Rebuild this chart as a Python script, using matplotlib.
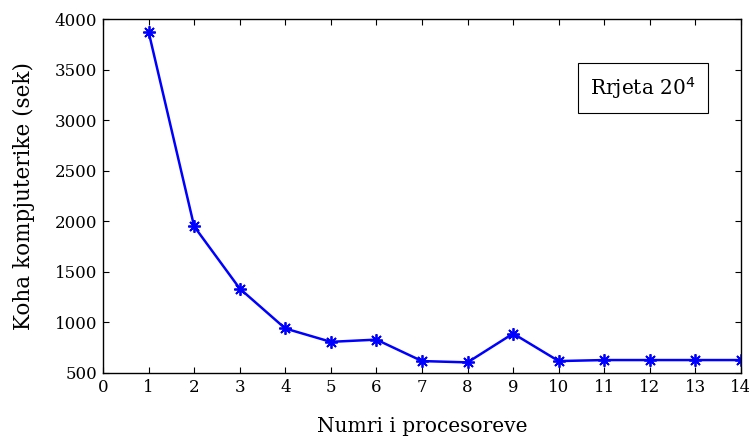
import matplotlib
matplotlib.use("Agg")
import matplotlib.pyplot as plt

processors = [1, 2, 3, 4, 5, 6, 7, 8, 9, 10, 11, 12, 13, 14]
times = [3875, 1950, 1335, 940, 808, 830, 618, 605, 890, 618, 628, 628, 628, 628]
xticks = list(range(0, 15))
yticks = [500, 1000, 1500, 2000, 2500, 3000, 3500, 4000]

plt.rcParams['font.family'] = ['DejaVu Serif']
fig = plt.figure(figsize=(7.49, 4.41), dpi=100)
ax = fig.add_axes([0.1375, 0.1542, 0.8518, 0.8027])

ax.plot(processors, times, color=(0, 0, 1), linewidth=1.8,
        marker=(8, 2, 0), markersize=9, markeredgewidth=1.3)

ax.set_xlim(0, 14)
ax.set_ylim(500, 4000)
ax.set_xticks(xticks)
ax.set_yticks(yticks)
ax.tick_params(direction='in', top=True, right=True, labelsize=12, length=4,
               width=0.8, pad=4)
for s in ax.spines.values():
    s.set_linewidth(1.0)

ax.set_xlabel("Numri i procesoreve", fontsize=14.5)
ax.xaxis.set_label_coords(0.5, -0.125)
ax.set_ylabel("Koha kompjuterike (sek)", fontsize=15.5)
ax.yaxis.set_label_coords(-0.107, 0.5)

ax.text(0.846, 0.805, r"Rrjeta 20$^4$", transform=ax.transAxes, fontsize=14.5,
        ha='center', va='center',
        bbox=dict(boxstyle='square,pad=0.6', facecolor='white',
                  edgecolor='black', linewidth=0.8))

fig.savefig("out.png", dpi=100)
